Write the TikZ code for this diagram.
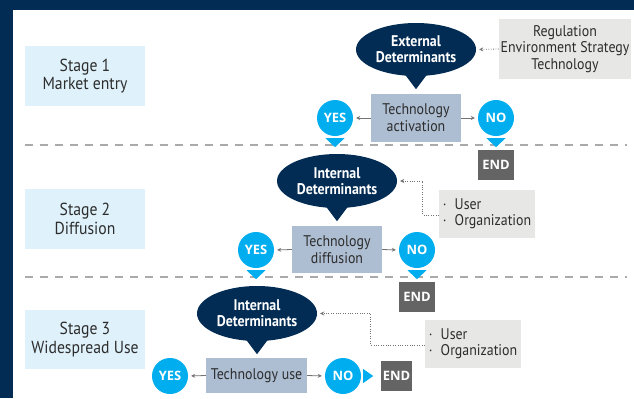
\documentclass[tikz,border=0pt]{standalone}
\usepackage{fontspec}
\setmainfont{PT Sans}[FakeStretch=0.9]
\newfontfamily\badgefont{Open Sans}
\usetikzlibrary{shapes.geometric,calc,arrows.meta}
\definecolor{navy}{RGB}{3,44,84}
\definecolor{stageblue}{RGB}{223,241,250}
\definecolor{techblue}{RGB}{173,189,210}
\definecolor{cyanb}{RGB}{0,174,239}
\definecolor{infogray}{RGB}{231,231,229}
\definecolor{endgray}{RGB}{100,100,100}
\definecolor{dashgray}{RGB}{170,170,170}
\definecolor{arrowgray}{RGB}{115,115,115}
\definecolor{textdark}{RGB}{45,45,45}
\tikzset{
  stagebox/.style={fill=stageblue, minimum width=120bp, minimum height=60bp, inner sep=0pt, align=center, text=textdark, font=\fontsize{17.5}{18.5}\selectfont},
  det/.style={ellipse, fill=navy, text=white, minimum width=120bp, minimum height=54bp, inner sep=0pt, align=center, font=\bfseries\fontsize{15.5}{16}\selectfont},
  techbox/.style={fill=techblue, minimum width=90bp, minimum height=48bp, inner sep=0pt, align=center, text=textdark, font=\fontsize{15.5}{17}\selectfont},
  badge/.style={circle, fill=cyanb, minimum size=36bp, inner sep=0pt, text=white, font=\badgefont\bfseries\fontsize{13}{13}\selectfont},
  endbox/.style={fill=endgray, minimum width=36bp, minimum height=30bp, inner sep=0pt, text=white, font=\badgefont\bfseries\fontsize{13}{13}\selectfont},
  infobox/.style={fill=infogray, inner sep=0pt, text=textdark, font=\fontsize{15.5}{16.5}\selectfont},
  sepline/.style={draw=dashgray, line width=2bp, dash pattern=on 8bp off 7bp},
  arr/.style={draw=arrowgray, line width=0.8bp, -{Stealth[length=4bp,width=4bp]}, shorten >=3bp},
  dotarr/.style={draw=arrowgray, line width=0.8bp, dash pattern=on 0.8bp off 1.6bp, -{Stealth[length=4bp,width=4bp]}, shorten >=3bp}
}
\begin{document}
\begin{tikzpicture}[x=1bp,y=-1bp]
\useasboundingbox (0,0) rectangle (634,398);
\fill[white] (0,0) rectangle (634,398);
\fill[navy] (0,0) rectangle (634,10);
\fill[navy] (0,0) rectangle (13,398);

% separators
\coordinate (d1a) at (25,145); \coordinate (d1b) at (627,145);
\coordinate (d2a) at (25,277); \coordinate (d2b) at (627,277);
\draw[sepline] (d1a) -- (d1b);
\draw[sepline] (d2a) -- (d2b);

% stage boxes
\node[stagebox] (s1) at (85,76) {Stage 1\\Market entry};
\node[stagebox] (s2) at (85,219) {Stage 2\\Diffusion};
\node[stagebox, minimum height=59bp] (s3) at (85,339.5) {Stage 3\\Widespread Use};

% Stage 1
\node[det, minimum height=53bp] (ext) at (416,49.5) {External\\Determinants};
\fill[navy] ($(ext.south)+(-12,-3)$) -- ($(ext.south)+(12,-3)$) -- ($(ext.south)+(0,13)$) -- cycle;
\node[infobox, minimum width=132bp, minimum height=60bp, align=center] (reg) at (565,49) {Regulation\\Environment Strategy\\Technology};
\draw[dotarr] (reg.west) -- (ext.east);
\node[techbox] (act) at (416,118) {Technology\\activation};
\node[badge] (yes1) at (335,118) {YES};
\node[badge] (no1) at (496,118) {NO};
\fill[cyanb] ($(yes1.south)+(-9.5,2)$) -- ($(yes1.south)+(9.5,2)$) -- ($(yes1.south)+(0,11)$) -- cycle;
\fill[cyanb] ($(no1.south)+(-9.5,2)$) -- ($(no1.south)+(9.5,2)$) -- ($(no1.south)+(0,11)$) -- cycle;
\draw[arr] (act.west) -- (yes1.east);
\draw[arr] (act.east) -- (no1.west);
\node[endbox] (end1) at (496,164.5) {END};

% Stage 2
\node[det] (int2) at (337,181) {Internal\\Determinants};
\fill[navy] ($(int2.south)+(-12,-3)$) -- ($(int2.south)+(12,-3)$) -- ($(int2.south)+(0,13)$) -- cycle;
\node[infobox, minimum width=96bp, minimum height=48bp, align=left] (uo2) at (487,214) {\makebox[12bp][l]{·}User\\\makebox[12bp][l]{·}Organization};
\draw[dotarr] ($(uo2.west)+(0,1)$) -- ++(-16,0) |- (int2.east);
\node[techbox, minimum height=47bp] (dif) at (337,249.5) {Technology\\diffusion};
\node[badge] (yes2) at (256,250) {YES};
\node[badge] (no2) at (417,250) {NO};
\fill[cyanb] ($(yes2.south)+(-9.5,2)$) -- ($(yes2.south)+(9.5,2)$) -- ($(yes2.south)+(0,11)$) -- cycle;
\fill[cyanb] ($(no2.south)+(-9.5,2)$) -- ($(no2.south)+(9.5,2)$) -- ($(no2.south)+(0,11)$) -- cycle;
\draw[arr] (dif.west) -- (yes2.east);
\draw[arr] (dif.east) -- (no2.west);
\node[endbox] (end2) at (417,297) {END};

% Stage 3
\node[det, minimum height=55bp] (int3) at (257,313.5) {Internal\\Determinants};
\fill[navy] ($(int3.south)+(-12,-3)$) -- ($(int3.south)+(12,-3)$) -- ($(int3.south)+(0,13)$) -- cycle;
\node[infobox, minimum width=96bp, minimum height=48bp, align=left] (uo3) at (473,344) {\makebox[12bp][l]{·}User\\\makebox[12bp][l]{·}Organization};
\draw[dotarr] ($(uo3.west)+(0,1)$) -- ++(-54,0) |- (int3.east);
\node[techbox, minimum width=101bp, minimum height=35bp] (use) at (256.5,375.5) {Technology use};
\node[badge] (yes3) at (170,376) {YES};
\node[badge] (no3) at (343,376) {NO};
\fill[cyanb] ($(no3.east)+(2,-7)$) -- ($(no3.east)+(2,7)$) -- ($(no3.east)+(12,0)$) -- cycle;
\draw[arr] (use.west) -- (yes3.east);
\draw[arr] (use.east) -- (no3.west);
\node[endbox, minimum width=31bp] (end3) at (396.5,376) {END};
\end{tikzpicture}
\end{document}
